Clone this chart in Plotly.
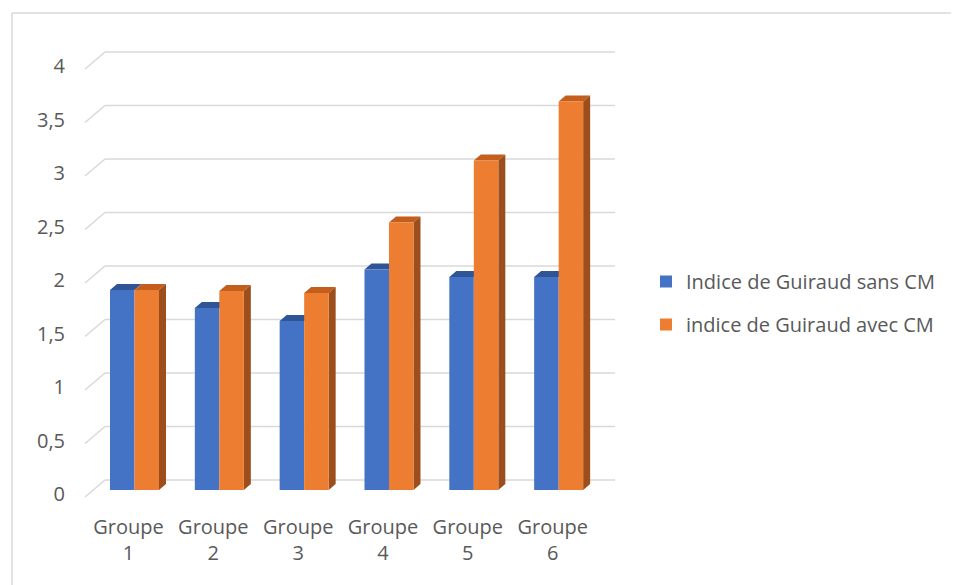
import plotly.graph_objects as go

# ---- data ----
categories = ["Groupe<br>1", "Groupe<br>2", "Groupe<br>3", "Groupe<br>4", "Groupe<br>5", "Groupe<br>6"]
sans_cm = [1.87, 1.70, 1.58, 2.06, 1.99, 1.99]
avec_cm = [1.87, 1.86, 1.84, 2.50, 3.08, 3.63]
series_names = ["Indice de Guiraud sans CM", "indice de Guiraud avec CM"]
y_ticks = [0, 0.5, 1, 1.5, 2, 2.5, 3, 3.5, 4]

# ---- layout geometry (screen pixels; page body adds an 8px offset) ----
OFF = 8
W, H = 959, 585
PL, PR, PT, PB = 80, 620, 45, 500          # plot area edges (screen)
C0, STEP = 134.5, 84.83                     # first group center (screen px), px per group
ZERO_PX, PX_PER_UNIT = 490, 107.0           # y=0 (screen px), px per y unit

xr = [(PL - C0) / STEP, (PR - C0) / STEP]
yr = [(ZERO_PX - PB) / PX_PER_UNIT, (ZERO_PX - PT) / PX_PER_UNIT]

def ux(px):
    return (px - C0) / STEP

def uy(px):
    return px / PX_PER_UNIT

BW = 24.5 / STEP             # bar width in data units
DX, DY = 7 / STEP, uy(6)     # 3D depth offsets

BLUE, BLUE_TOP = "#4472C4", "#2F5597"
ORANGE, ORANGE_TOP, ORANGE_SIDE = "#ED7D31", "#C45E1C", "#9C4E1C"
GRID = "#D9D9D9"
TXT = "#595959"
FONT = "Open Sans"

xs = list(range(len(categories)))

fig = go.Figure()
fig.add_trace(go.Bar(x=xs, y=sans_cm, name=series_names[0], marker_color=BLUE,
                     marker_line_width=0, width=BW, offset=-BW, legendgroup="a"))
fig.add_trace(go.Bar(x=xs, y=avec_cm, name=series_names[1], marker_color=ORANGE,
                     marker_line_width=0, width=BW, offset=0, legendgroup="b"))

shapes = []

def poly(pts, color):
    d = "M " + " L ".join(f"{a},{b}" for a, b in pts) + " Z"
    return dict(type="path", path=d, xref="x", yref="y", fillcolor=color,
                line=dict(width=0), layer="below")

# back-wall gridlines and diagonal ticks
back_dy = uy(10)
front_dy = -uy(7)
x_back_l, x_back_r, x_front = ux(105), ux(615), ux(85)
for t in y_ticks:
    shapes.append(dict(type="line", xref="x", yref="y", x0=x_back_l, x1=x_back_r,
                       y0=t + back_dy, y1=t + back_dy, line=dict(color=GRID, width=1.6), layer="below"))
    shapes.append(dict(type="line", xref="x", yref="y", x0=x_front, x1=x_back_l,
                       y0=t + front_dy, y1=t + back_dy, line=dict(color=GRID, width=1.6), layer="below"))

# 3D faces
for i, (vb, vo) in enumerate(zip(sans_cm, avec_cm)):
    shapes.append(poly([(i - BW, vb), (i, vb), (i + DX, vb + DY), (i - BW + DX, vb + DY)], BLUE_TOP))
    shapes.append(poly([(i, vo), (i + BW, vo), (i + BW + DX, vo + DY), (i + DX, vo + DY)], ORANGE_TOP))
    shapes.append(poly([(i + BW, 0), (i + BW, vo), (i + BW + DX, vo + DY), (i + BW + DX, DY)], ORANGE_SIDE))

# outer chart border (top and left edges visible)
pw, ph = PR - PL, PB - PT
bx0, by0 = (12 - PL) / pw, (PB - 13) / ph
bx1, by1 = (W + OFF + 20 - PL) / pw, (PB - (H + OFF + 20)) / ph
shapes.append(dict(type="line", xref="paper", yref="paper", x0=bx0, x1=bx1, y0=by0, y1=by0,
                   line=dict(color=GRID, width=1.5), layer="below"))
shapes.append(dict(type="line", xref="paper", yref="paper", x0=bx0, x1=bx0, y0=by0, y1=by1,
                   line=dict(color=GRID, width=1.5), layer="below"))

fig.update_layout(
    width=W, height=H,
    margin=dict(l=PL - OFF, r=W - PR + OFF, t=PT - OFF, b=H - PB + OFF, autoexpand=False),
    paper_bgcolor="white", plot_bgcolor="white",
    separators=", ",
    barmode="group",
    font=dict(family=FONT, size=20, color=TXT),
    shapes=shapes,
    showlegend=True,
    legend=dict(xref="container", yref="container", x=(646 - OFF) / W, y=1 - (303 - OFF) / H,
                xanchor="left", yanchor="middle", tracegroupgap=14,
                traceorder="grouped", font=dict(size=20, color=TXT),
                bgcolor="rgba(0,0,0,0)"),
    xaxis=dict(range=xr, tickvals=xs, ticktext=categories, showgrid=False,
               zeroline=False, showline=False, ticks="", ticklabelstandoff=13,
               ticklabelshift=-6, fixedrange=True),
    yaxis=dict(range=yr, tickvals=y_ticks, showgrid=False, zeroline=False,
               showline=False, ticks="", ticklabelstandoff=14, ticklabelshift=4,
               fixedrange=True),
)

fig.write_html("out.html")
